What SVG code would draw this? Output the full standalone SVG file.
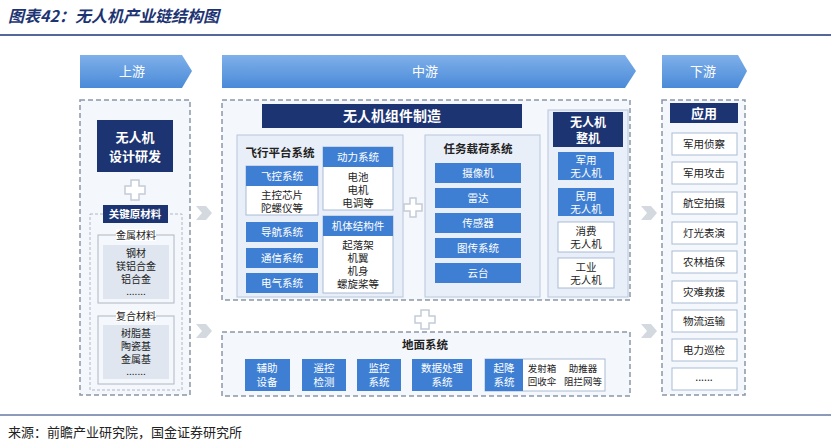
<svg xmlns="http://www.w3.org/2000/svg" width="831" height="448" viewBox="0 0 831 448">
<defs>
<linearGradient id="hg" x1="0" y1="0" x2="0" y2="1"><stop offset="0" stop-color="#7fb0ea"/><stop offset="1" stop-color="#4a8ad8"/></linearGradient>
<style>
text{font-family:"Noto Sans CJK SC","Liberation Sans",sans-serif;text-anchor:middle}
.dash{fill:#f4f7fb;stroke:#8a96a8;stroke-width:1.5;stroke-dasharray:5,3}
.navy{fill:#1d3473}
.mid{fill:#3f7fd3}
.lt{fill:#e9eff8;stroke:#b8c6dc;stroke-width:1}
.wb{fill:#fff;stroke:#a9bcd6;stroke-width:1}
.w{fill:#fff;font-size:10.5px}
.wb13{fill:#fff;font-size:13px;font-weight:bold}
.d{fill:#222;font-size:10.5px}
.s{fill:#222;font-size:10px}
.db{fill:#222;font-size:11.5px;font-weight:bold}
.hd{fill:#fff;font-size:13px}
.plus{fill:#fff;stroke:#c3ccd8;stroke-width:1.5}
.chev{fill:#d4d9e0}
</style>
</defs>
<rect width="831" height="448" fill="#fff"/>
<text x="8" y="22" style="text-anchor:start;font-size:16px;font-weight:bold;font-style:italic;fill:#1d3473">图表42：无人机产业链结构图</text>
<line x1="0" y1="35" x2="831" y2="35" stroke="#1d3473" stroke-width="1.5"/>
<g id="headers">
<polygon points="80,55 182,55 192,71 182,88 80,88" fill="url(#hg)"/><text class="hd" x="132" y="76">上游</text>
<polygon points="222,55 625,55 636,71 625,88 222,88" fill="url(#hg)"/><text class="hd" x="425" y="76">中游</text>
<polygon points="662,55 738,55 747,71 738,88 662,88" fill="url(#hg)"/><text class="hd" x="703" y="76">下游</text>
</g>
<g id="upstream">
<rect class="dash" x="80" y="100" width="110" height="295"/>
<rect class="navy" x="97" y="120" width="76" height="52"/>
<text class="wb13" x="135" y="142">无人机</text><text class="wb13" x="135" y="161">设计研发</text>
<rect x="90" y="214" width="92" height="176" fill="none" stroke="#b0b8c4" stroke-dasharray="3,2"/>
<rect class="navy" x="103" y="205" width="65" height="18"/><text class="w" x="135" y="218" style="font-weight:bold">关键原材料</text>
<rect x="98" y="235" width="76" height="68" fill="none" stroke="#b0b8c4"/>
<rect x="116" y="229" width="40" height="12" fill="#fff"/><text class="s" x="136" y="239">金属材料</text>
<rect x="103" y="245" width="66" height="54" fill="#dfe6f0"/>
<text class="s" x="136" y="257">钢材</text><text class="s" x="136" y="270">镁铝合金</text><text class="s" x="136" y="283">铝合金</text><text class="s" x="136" y="295">.......</text>
<rect x="98" y="316" width="76" height="68" fill="none" stroke="#b0b8c4"/>
<rect x="116" y="310" width="40" height="12" fill="#fff"/><text class="s" x="136" y="320">复合材料</text>
<rect x="103" y="325" width="66" height="54" fill="#dfe6f0"/>
<text class="s" x="136" y="337">树脂基</text><text class="s" x="136" y="350">陶瓷基</text><text class="s" x="136" y="363">金属基</text><text class="s" x="136" y="375">.......</text>
</g>
<g id="midstream">
<rect class="dash" x="222" y="100" width="408" height="200"/>
<rect class="navy" x="262" y="104" width="260" height="24"/><text class="wb13" x="392" y="121" style="font-size:14px">无人机组件制造</text>
</g>
<g id="flight">
<rect class="lt" x="237" y="135" width="166" height="162"/>
<text class="db" x="280" y="157">飞行平台系统</text>
<rect class="wb" x="246" y="166" width="72" height="49"/><rect class="mid" x="246" y="166" width="72" height="20"/>
<text class="w" x="282" y="180">飞控系统</text><text class="d" x="282" y="199">主控芯片</text><text class="d" x="282" y="212">陀螺仪等</text>
<rect class="mid" x="246" y="222" width="72" height="20"/><text class="w" x="282" y="236">导航系统</text>
<rect class="mid" x="246" y="248" width="72" height="20"/><text class="w" x="282" y="262">通信系统</text>
<rect class="mid" x="246" y="273" width="72" height="20"/><text class="w" x="282" y="287">电气系统</text>
<rect class="wb" x="323" y="147" width="70" height="63"/><rect class="mid" x="323" y="147" width="70" height="20"/>
<text class="w" x="358" y="161">动力系统</text><text class="d" x="358" y="181">电池</text><text class="d" x="358" y="194">电机</text><text class="d" x="358" y="207">电调等</text>
<rect class="wb" x="323" y="216" width="70" height="77"/><rect class="mid" x="323" y="216" width="70" height="20"/>
<text class="w" x="358" y="230">机体结构件</text><text class="d" x="358" y="249">起落架</text><text class="d" x="358" y="262">机翼</text><text class="d" x="358" y="275">机身</text><text class="d" x="358" y="288">螺旋桨等</text>
</g>
<g id="payload">
<rect class="lt" x="425" y="135" width="115" height="162"/>
<text class="db" x="478" y="153">任务载荷系统</text>
<rect class="mid" x="435" y="163" width="86" height="20"/><text class="w" x="478" y="177">摄像机</text>
<rect class="mid" x="435" y="188" width="86" height="20"/><text class="w" x="478" y="202">雷达</text>
<rect class="mid" x="435" y="213" width="86" height="20"/><text class="w" x="478" y="227">传感器</text>
<rect class="mid" x="435" y="238" width="86" height="20"/><text class="w" x="478" y="252">图传系统</text>
<rect class="mid" x="435" y="263" width="86" height="20"/><text class="w" x="478" y="277">云台</text>
</g>
<g id="complete">
<rect class="lt" x="548" y="110" width="80" height="187"/>
<rect class="navy" x="553" y="112" width="70" height="35"/><text class="wb13" x="588" y="127" style="font-size:12px">无人机</text><text class="wb13" x="588" y="143" style="font-size:12px">整机</text>
<rect class="mid" x="558" y="152" width="56" height="28"/><text class="w" x="586" y="164">军用</text><text class="w" x="586" y="177">无人机</text>
<rect class="mid" x="558" y="188" width="56" height="28"/><text class="w" x="586" y="200">民用</text><text class="w" x="586" y="213">无人机</text>
<rect class="wb" x="558" y="222" width="56" height="30"/><text class="d" x="586" y="235">消费</text><text class="d" x="586" y="248">无人机</text>
<rect class="wb" x="558" y="258" width="56" height="30"/><text class="d" x="586" y="271">工业</text><text class="d" x="586" y="284">无人机</text>
</g>
<g id="ground">
<rect class="dash" x="222" y="332" width="408" height="64"/>
<text class="db" x="425" y="349">地面系统</text>
<rect class="mid" x="245" y="359" width="45" height="32"/><text class="w" x="267" y="372">辅助</text><text class="w" x="267" y="386">设备</text>
<rect class="mid" x="302" y="359" width="44" height="32"/><text class="w" x="324" y="372">遥控</text><text class="w" x="324" y="386">检测</text>
<rect class="mid" x="357" y="359" width="44" height="32"/><text class="w" x="379" y="372">监控</text><text class="w" x="379" y="386">系统</text>
<rect class="mid" x="412" y="359" width="60" height="32"/><text class="w" x="442" y="372">数据处理</text><text class="w" x="442" y="386">系统</text>
<rect class="wb" x="485" y="359" width="120" height="32"/>
<rect class="mid" x="485" y="359" width="38" height="32"/><text class="w" x="504" y="372">起降</text><text class="w" x="504" y="386">系统</text>
<text class="s" x="542" y="372" style="font-size:9.5px">发射箱</text><text class="s" x="542" y="385" style="font-size:9.5px">回收伞</text>
<text class="s" x="583" y="372" style="font-size:9.5px">助推器</text><text class="s" x="583" y="385" style="font-size:9.5px">阻拦网等</text>
</g>
<g id="downstream">
<rect class="dash" x="662" y="100" width="83" height="295"/>
<rect class="navy" x="670" y="103" width="68" height="20"/><text class="wb13" x="704" y="118">应用</text>
<rect class="wb" x="672" y="133" width="65" height="22"/><text class="d" x="704" y="148">军用侦察</text>
<rect class="wb" x="672" y="162" width="65" height="22"/><text class="d" x="704" y="177">军用攻击</text>
<rect class="wb" x="672" y="192" width="65" height="22"/><text class="d" x="704" y="207">航空拍摄</text>
<rect class="wb" x="672" y="222" width="65" height="22"/><text class="d" x="704" y="237">灯光表演</text>
<rect class="wb" x="672" y="251" width="65" height="22"/><text class="d" x="704" y="266">农林植保</text>
<rect class="wb" x="672" y="281" width="65" height="22"/><text class="d" x="704" y="296">灾难救援</text>
<rect class="wb" x="672" y="310" width="65" height="22"/><text class="d" x="704" y="325">物流运输</text>
<rect class="wb" x="672" y="339" width="65" height="22"/><text class="d" x="704" y="354">电力巡检</text>
<rect class="wb" x="672" y="368" width="65" height="22"/><text class="d" x="704" y="381">......</text>
</g>
<g id="connectors">
<polygon class="chev" points="196,206 206,206 212,213 206,220 196,220 202,213"/>
<polygon class="chev" points="196,324 206,324 212,331 206,338 196,338 202,331"/>
<polygon class="chev" points="641,206 651,206 657,213 651,220 641,220 647,213"/>
<polygon class="chev" points="641,324 651,324 657,331 651,338 641,338 647,331"/>
<path class="plus" d="M131,180h8v6h6v8h-6v6h-8v-6h-6v-8h6z"/>
<path class="plus" d="M410,198h6v6h6v7h-6v6h-6v-6h-6v-7h6z"/>
<path class="plus" d="M421,310h8v6h6v7h-6v6h-8v-6h-6v-7h6z"/>
</g>
<line x1="0" y1="415" x2="831" y2="415" stroke="#1d3473" stroke-width="1"/>
<text x="8" y="437" style="text-anchor:start;font-size:13px;fill:#222">来源：前瞻产业研究院，国金证券研究所</text>
</svg>
